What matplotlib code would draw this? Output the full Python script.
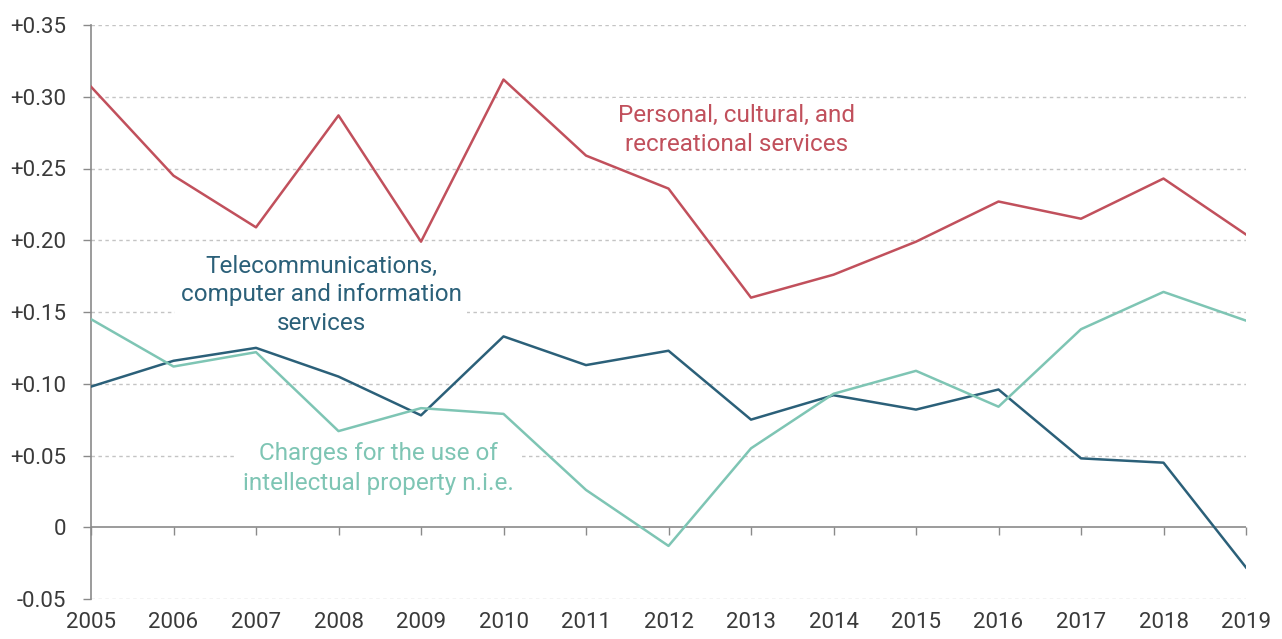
import matplotlib
matplotlib.use("Agg")
import matplotlib.pyplot as plt

years = list(range(2005, 2020))
personal = [0.307, 0.245, 0.209, 0.287, 0.199, 0.312, 0.259, 0.236, 0.160, 0.176,
            0.199, 0.227, 0.215, 0.243, 0.204]
telecom = [0.098, 0.116, 0.125, 0.105, 0.078, 0.133, 0.113, 0.123, 0.075, 0.092,
           0.082, 0.096, 0.048, 0.045, -0.028]
charges = [0.145, 0.112, 0.122, 0.067, 0.083, 0.079, 0.026, -0.013, 0.055, 0.093,
           0.109, 0.084, 0.138, 0.164, 0.144]
yticks = [-0.05, 0, 0.05, 0.10, 0.15, 0.20, 0.25, 0.30, 0.35]
ytick_labels = ["-0.05", "0", "+0.05", "+0.10", "+0.15", "+0.20", "+0.25", "+0.30", "+0.35"]

c_red = "#c1505c"
c_blue = "#2b6079"
c_teal = "#7ec5b4"
c_grid = "#c4c4c4"
c_axis = "#8a8a8a"
c_text = "#3a3a3a"

plt.rcParams['font.family'] = ['Roboto', 'DejaVu Sans']

fig = plt.figure(figsize=(12.82, 6.39), dpi=100)
ax = fig.add_axes([91/1282, 1-599/639, (1246-91)/1282, (599-25)/639])

ax.set_xlim(2005, 2019)
ax.set_ylim(-0.05, 0.35)

for y in yticks:
    if y == 0:
        ax.axhline(y, color=c_axis, lw=1.2, zorder=1)
    else:
        ax.axhline(y, color=c_grid, lw=1.0, ls=(0, (2.5, 2.5)), zorder=0)

ax.plot(years, personal, color=c_red, lw=1.8, zorder=3)
ax.plot(years, telecom, color=c_blue, lw=1.8, zorder=3)
ax.plot(years, charges, color=c_teal, lw=1.8, zorder=3)

for s in ["top", "right", "bottom"]:
    ax.spines[s].set_visible(False)
ax.spines["left"].set_color(c_axis)
ax.spines["left"].set_linewidth(1.2)

ax.set_yticks(yticks)
ax.set_yticklabels(ytick_labels)
ax.tick_params(axis="y", length=6, color=c_axis, width=1, pad=12,
               labelsize=16, labelcolor=c_text)
ax.set_xticks(years)
ax.set_xticklabels([str(y) for y in years])
ax.tick_params(axis="x", length=0, pad=9, labelsize=16, labelcolor=c_text)

sec = ax.secondary_xaxis(0.05 / 0.40)
sec.set_xticks(years)
sec.set_xticklabels([])
sec.tick_params(axis="x", length=6, color=c_axis, width=1, direction="out")
sec.spines["bottom"].set_visible(False)

bbox = dict(facecolor="white", edgecolor="none", pad=4)
ax.text(2012.83, 0.277, "Personal, cultural, and\nrecreational services",
        color=c_red, fontsize=17.5, ha="center", va="center", linespacing=1.36,
        bbox=bbox, zorder=4)
ax.text(2007.79, 0.162, "Telecommunications,\ncomputer and information\nservices",
        color=c_blue, fontsize=17.5, ha="center", va="center", linespacing=1.32,
        bbox=bbox, zorder=4)
ax.text(2008.48, 0.041, "Charges for the use of\nintellectual property n.i.e.",
        color=c_teal, fontsize=17.5, ha="center", va="center", linespacing=1.36,
        bbox=bbox, zorder=4)

fig.savefig("out.png", dpi=100)
